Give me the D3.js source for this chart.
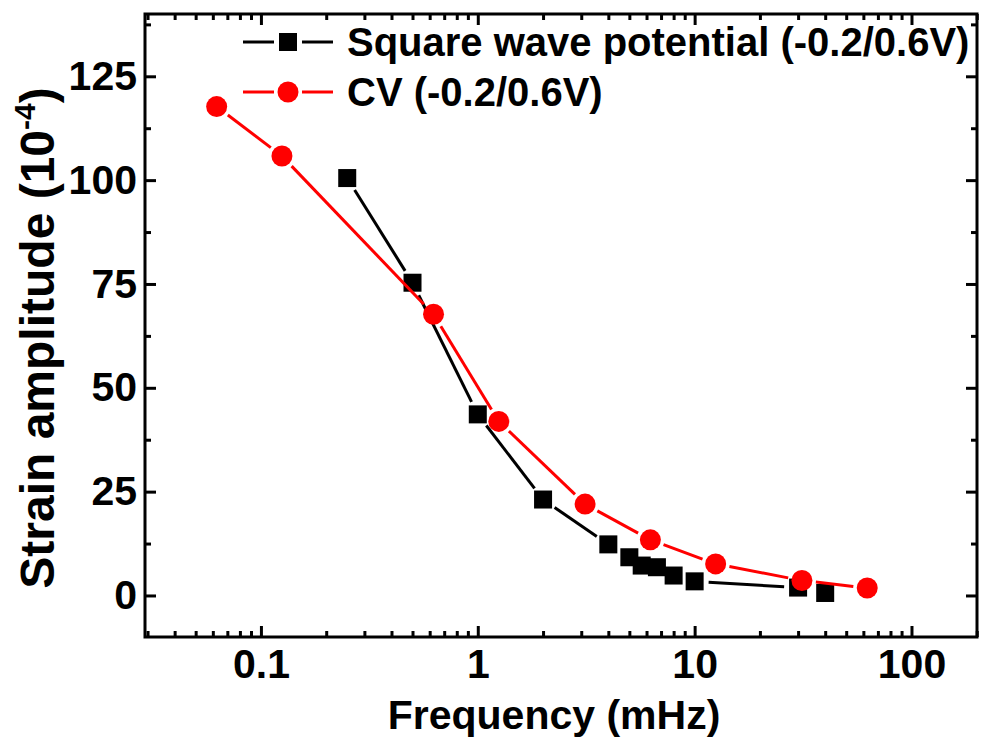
<!DOCTYPE html>
<html>
<head>
<meta charset="utf-8">
<script src="https://cdn.jsdelivr.net/npm/d3@7"></script>
<style>
  body { margin: 0; background: #fff; }
  text { font-family: "Liberation Sans", Arial, sans-serif; font-weight: bold; }
</style>
</head>
<body>
<script>
// square wave potential series
const swFreq = [0.25, 0.5, 1, 2, 4, 5, 5.7, 6.7, 8, 10, 30, 40];
const swStrain = [100.5, 75.3, 43.6, 23.1, 12.3, 9.2, 7.2, 6.8, 4.8, 3.4, 1.9, 0.6];
// CV series
const cvFreq = [0.0625, 0.125, 0.625, 1.25, 3.125, 6.25, 12.5, 31.25, 62.5];
const cvStrain = [117.7, 105.8, 67.7, 41.9, 22.0, 13.4, 7.6, 3.6, 1.8];

const xTicks = [0.1, 1, 10, 100];
const xTickLabels = ["0.1", "1", "10", "100"];
const yTicks = [0, 25, 50, 75, 100, 125];
const yMinor = [12.5, 37.5, 62.5, 87.5, 112.5, 137.5];
const legendLabels = ["Square wave potential (-0.2/0.6V)", "CV (-0.2/0.6V)"];

const width = 981, height = 738;
const pLeft = 145, pRight = 977, pTop = 14, pBottom = 637;

const svg = d3.select("body").append("svg")
  .attr("width", width)
  .attr("height", height);

const x = d3.scaleLog().domain([0.0292, 200.5]).range([pLeft, pRight]);
const y = d3.scaleLinear().domain([-10, 140]).range([pBottom, pTop]);

// minor ticks on log axis: 2..9 of each decade
let xMinor = [];
[0.01, 0.1, 1, 10, 100].forEach(d => {
  for (let i = 2; i <= 9; i++) {
    let v = d * i;
    if (v > x.domain()[0] && v < x.domain()[1]) xMinor.push(v);
  }
});

const stroke = 3;
const tickFont = 41;

function axisStyle(g) {
  g.select(".domain").remove();
  g.selectAll("line").attr("stroke", "#000").attr("stroke-width", stroke);
  g.selectAll("text").attr("font-size", tickFont).attr("fill", "#000");
}

// bottom axis
svg.append("g")
  .attr("transform", `translate(0,${pBottom})`)
  .call(d3.axisBottom(x).tickValues(xTicks).tickFormat((d, i) => xTickLabels[i]).tickSizeInner(-11).tickPadding(12))
  .call(axisStyle)
  .selectAll("text").attr("dy", "0.71em");
svg.append("g")
  .attr("transform", `translate(0,${pBottom})`)
  .call(d3.axisBottom(x).tickValues(xMinor).tickFormat("").tickSizeInner(-6))
  .call(axisStyle);

// top axis
svg.append("g")
  .attr("transform", `translate(0,${pTop})`)
  .call(d3.axisTop(x).tickValues(xTicks).tickFormat("").tickSizeInner(-11))
  .call(axisStyle);
svg.append("g")
  .attr("transform", `translate(0,${pTop})`)
  .call(d3.axisTop(x).tickValues(xMinor).tickFormat("").tickSizeInner(-6))
  .call(axisStyle);

// left axis
svg.append("g")
  .attr("transform", `translate(${pLeft},0)`)
  .call(d3.axisLeft(y).tickValues(yTicks).tickSizeInner(-11).tickPadding(8))
  .call(axisStyle);
svg.append("g")
  .attr("transform", `translate(${pLeft},0)`)
  .call(d3.axisLeft(y).tickValues(yMinor).tickFormat("").tickSizeInner(-6))
  .call(axisStyle);

// right axis
svg.append("g")
  .attr("transform", `translate(${pRight},0)`)
  .call(d3.axisRight(y).tickValues(yTicks).tickFormat("").tickSizeInner(-11))
  .call(axisStyle);
svg.append("g")
  .attr("transform", `translate(${pRight},0)`)
  .call(d3.axisRight(y).tickValues(yMinor).tickFormat("").tickSizeInner(-6))
  .call(axisStyle);

// frame
svg.append("rect")
  .attr("x", pLeft).attr("y", pTop)
  .attr("width", pRight - pLeft).attr("height", pBottom - pTop)
  .attr("fill", "none").attr("stroke", "#000").attr("stroke-width", stroke);

// axis titles
svg.append("text")
  .attr("x", 554).attr("y", 729)
  .attr("text-anchor", "middle")
  .attr("font-size", 41)
  .text("Frequency (mHz)");

const yt = svg.append("text")
  .attr("transform", `translate(54,338) rotate(-90)`)
  .attr("text-anchor", "middle")
  .attr("font-size", 48);
yt.append("tspan").text("Strain amplitude (10");
yt.append("tspan").attr("font-size", 30).attr("dy", -19).text("-4");
yt.append("tspan").attr("dy", 19).text(")");

const gap = 14;

function drawSeries(fx, fy, color, shape) {
  const pts = fx.map((f, i) => [x(f), y(fy[i])]);
  const g = svg.append("g");
  for (let i = 0; i < pts.length - 1; i++) {
    const [x1, y1] = pts[i], [x2, y2] = pts[i + 1];
    const len = Math.hypot(x2 - x1, y2 - y1);
    if (len <= 2 * gap) continue;
    const ux = (x2 - x1) / len, uy = (y2 - y1) / len;
    g.append("line")
      .attr("x1", x1 + ux * gap).attr("y1", y1 + uy * gap)
      .attr("x2", x2 - ux * gap).attr("y2", y2 - uy * gap)
      .attr("stroke", color).attr("stroke-width", 3);
  }
  pts.forEach(p => marker(g, p[0], p[1], color, shape));
}

function marker(g, cx, cy, color, shape) {
  if (shape === "square") {
    g.append("rect")
      .attr("x", cx - 9).attr("y", cy - 9)
      .attr("width", 18).attr("height", 18)
      .attr("fill", color);
  } else {
    g.append("circle")
      .attr("cx", cx).attr("cy", cy).attr("r", 10.5)
      .attr("fill", color);
  }
}

drawSeries(swFreq, swStrain, "#000", "square");
drawSeries(cvFreq, cvStrain, "#ff0000", "circle");

// legend
const legend = [
  {label: legendLabels[0], color: "#000", shape: "square", yy: 42},
  {label: legendLabels[1], color: "#ff0000", shape: "circle", yy: 92}
];
legend.forEach(d => {
  const g = svg.append("g");
  g.append("line").attr("x1", 243).attr("x2", 274).attr("y1", d.yy).attr("y2", d.yy)
    .attr("stroke", d.color).attr("stroke-width", 3);
  g.append("line").attr("x1", 302).attr("x2", 333).attr("y1", d.yy).attr("y2", d.yy)
    .attr("stroke", d.color).attr("stroke-width", 3);
  marker(g, 288, d.yy, d.color, d.shape);
  g.append("text")
    .attr("x", 347).attr("y", d.yy + 14)
    .attr("font-size", 40)
    .text(d.label);
});
</script>
</body>
</html>
